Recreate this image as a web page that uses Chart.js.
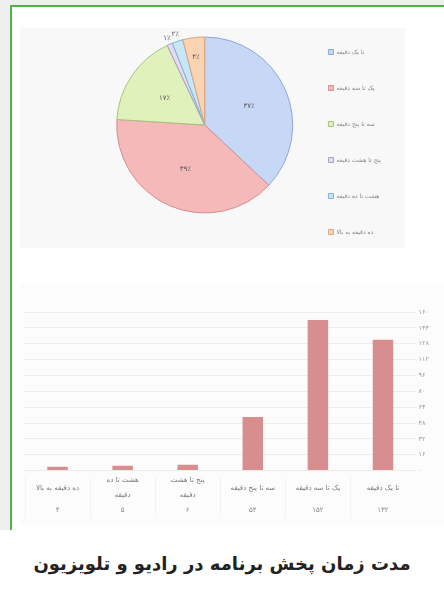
<!DOCTYPE html>
<html lang="fa">
<head>
<meta charset="utf-8">
<script src="https://cdn.jsdelivr.net/npm/chart.js@4.4.0/dist/chart.umd.min.js"></script>
<style>
  html, body { margin: 0; padding: 0; width: 444px; height: 589px; overflow: hidden; background: #fff; }
  .gutter { position: absolute; left: 0; top: 0; width: 10px; height: 530px; background: #efefef; }
  .topband { position: absolute; left: 0; top: 0; width: 444px; height: 5px; background: #efefef; }
  .frame { position: absolute; left: 10px; top: 5px; width: 440px; height: 525px; box-sizing: border-box;
           border-left: 2px solid #4cb648; border-top: 2px solid #4cb648; }
  .pieBack { position: absolute; left: 20px; top: 28px; width: 385px; height: 220px; background: #f8f8f8; }
  #pieBox { position: absolute; left: 20px; top: 16px; width: 371px; height: 252px; }
  #barBox { position: absolute; left: 20px; top: 285px; width: 424px; height: 240px; background: #fcfcfc; }
  h1 { position: absolute; left: 0; top: 553px; width: 444px; margin: 0; text-align: center; direction: rtl;
       font: bold 18px "DejaVu Sans", sans-serif; color: #222; }
</style>
</head>
<body>
<div class="topband"></div>
<div class="gutter"></div>
<div class="frame"></div>
<div class="pieBack"></div>
<div id="pieBox"><canvas id="pieChart"></canvas></div>
<div id="barBox"><canvas id="barChart"></canvas></div>
<h1>مدت زمان پخش برنامه در رادیو و تلویزیون</h1>

<script>
// duration groups, shortest first
const durations = ['تا یک دقیقه', 'یک تا سه دقیقه', 'سه تا پنج دقیقه', 'پنج تا هشت دقیقه', 'هشت تا ده دقیقه', 'ده دقیقه به بالا'];
// same groups split over two lines where the axis needs it
const barLabels = [['تا یک دقیقه'], ['یک تا سه دقیقه'], ['سه تا پنج دقیقه'], ['پنج تا هشت', 'دقیقه'], ['هشت تا ده', 'دقیقه'], ['ده دقیقه به بالا']];
// pie shares in percent
const pieShares = [37, 39, 17, 1, 2, 4];
// program counts per group
const barCounts = [132, 152, 54, 6, 5, 4];
// value axis
const yMax = 160;
const yStep = 16;

const pieFills = ['#c6d8f6', '#f5b9b9', '#e1f1bb', '#e4dcf1', '#c9e6f6', '#fad3b2'];
const pieEdges = ['#8ea8d6', '#cf9090', '#a9c27d', '#a99bc6', '#80b4d2', '#d9a57c'];

const faDigits = '۰۱۲۳۴۵۶۷۸۹';
const toFa = n => String(n).replace(/\d/g, d => faDigits[d]);
const FONT = '"DejaVu Sans", sans-serif';

// percent text on (or just outside) each slice
const sliceLabels = {
    id: 'sliceLabels',
    afterDatasetsDraw(chart) {
        const ctx = chart.ctx;
        const meta = chart.getDatasetMeta(0);
        const total = pieShares.reduce((a, b) => a + b, 0);
        ctx.save();
        ctx.font = '7px ' + FONT;
        ctx.fillStyle = '#555';
        ctx.textAlign = 'center';
        ctx.textBaseline = 'middle';
        meta.data.forEach((arc, i) => {
            const p = arc.getProps(['x', 'y', 'startAngle', 'endAngle', 'outerRadius'], true);
            const mid = (p.startAngle + p.endAngle) / 2;
            const pct = Math.round(pieShares[i] / total * 100);
            const r = pct < 3 ? p.outerRadius + 7 : (pct < 10 ? p.outerRadius * 0.78 : p.outerRadius * 0.55);
            ctx.fillText(toFa(pct) + '٪', p.x + Math.cos(mid) * r, p.y + Math.sin(mid) * r);
        });
        ctx.restore();
    }
};

new Chart(document.getElementById('pieChart'), {
    type: 'pie',
    data: {
        labels: durations,
        datasets: [{
            data: pieShares,
            backgroundColor: pieFills,
            borderColor: pieEdges,
            borderWidth: 1,
            radius: 88
        }]
    },
    options: {
        responsive: true,
        maintainAspectRatio: false,
        animation: false,
        layout: { padding: { left: 91 } },
        plugins: {
            tooltip: { enabled: false },
            // empty bottom box lifts the pie above the legend's middle
            title: {
                display: true,
                text: '',
                position: 'bottom',
                fullSize: false,
                padding: 0,
                font: { size: 10, lineHeight: 3.4 }
            },
            legend: {
                position: 'right',
                labels: {
                    boxWidth: 5,
                    boxHeight: 5,
                    padding: 30,
                    color: '#888',
                    font: { size: 6, family: FONT }
                }
            }
        }
    },
    plugins: [sliceLabels]
});

// count under each category, plus faint cell dividers
const countRow = {
    id: 'countRow',
    afterDraw(chart) {
        const ctx = chart.ctx;
        const x = chart.scales.x;
        const half = (x.getPixelForTick(0) - x.getPixelForTick(1)) / 2;
        ctx.save();
        ctx.font = '7px ' + FONT;
        ctx.fillStyle = '#888';
        ctx.textAlign = 'center';
        ctx.textBaseline = 'middle';
        ctx.strokeStyle = '#f3f3f3';
        ctx.lineWidth = 1;
        barCounts.forEach((v, i) => {
            const px = x.getPixelForTick(i);
            ctx.fillText(toFa(v), px, x.bottom - 10);
            ctx.beginPath();
            ctx.moveTo(Math.round(px - half) + 0.5, x.top + 6);
            ctx.lineTo(Math.round(px - half) + 0.5, x.bottom - 2);
            ctx.stroke();
        });
        ctx.restore();
    }
};

new Chart(document.getElementById('barChart'), {
    type: 'bar',
    data: {
        labels: barLabels,
        datasets: [{
            data: barCounts,
            backgroundColor: '#d88d8e',
            barPercentage: 0.35,
            categoryPercentage: 0.9
        }]
    },
    options: {
        responsive: true,
        maintainAspectRatio: false,
        animation: false,
        layout: { padding: { left: 5, top: 27, right: 12, bottom: 5 } },
        plugins: {
            legend: { display: false },
            tooltip: { enabled: false }
        },
        scales: {
            x: {
                reverse: true,
                grid: { display: false, drawTicks: false },
                border: { display: false },
                ticks: {
                    autoSkip: false,
                    maxRotation: 0,
                    padding: 10,
                    crossAlign: 'center',
                    color: '#777',
                    font: { size: 7, family: FONT, lineHeight: 2.1 }
                }
            },
            y: {
                position: 'right',
                min: 0,
                max: yMax,
                grid: { color: '#ececec', drawTicks: false },
                border: { display: false },
                ticks: {
                    stepSize: yStep,
                    padding: 3,
                    color: '#999',
                    font: { size: 6.5, family: FONT },
                    callback: v => toFa(v)
                }
            }
        }
    },
    plugins: [countRow]
});
</script>
</body>
</html>
